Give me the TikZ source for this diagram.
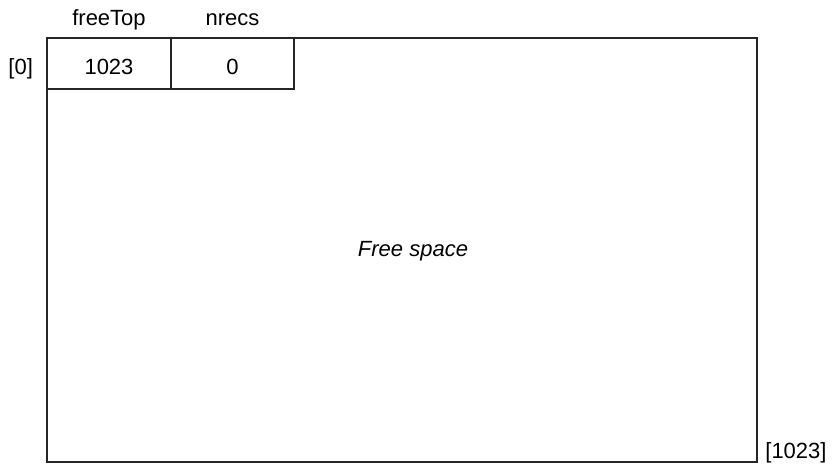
\documentclass[tikz,border=0pt]{standalone}
\usepackage{fontspec}
\setmainfont{Liberation Sans}
\usetikzlibrary{positioning}

\begin{document}
\begin{tikzpicture}[x=0.5pt, y=-0.5pt, font=\fontsize{11pt}{13pt}\selectfont,
    txt/.style={text height=8pt, text depth=2.3pt},
    celltxt/.style={text height=11pt, text depth=0pt},
    cell/.style={celltxt, draw=black!85, line width=0.8pt, outer sep=0pt, inner sep=0pt,
                 minimum height=25.5pt}]
        \useasboundingbox (0,0) rectangle (832,463);
        % Page
        \node[cell, minimum width=355pt, minimum height=212pt] (page)
              at (402,250) {};
        % Header fields
        \node[cell, minimum width=62pt, anchor=north west] (topcell)
              at (page.north west) {1023};
        \node[cell, minimum width=61.5pt, right=0pt of topcell] (nreccell) {0};
        % Field names
        \node[txt, above=0.5pt of topcell] (toplbl) {freeTop};
        \node[txt, above=0.5pt of nreccell] (nreclbl) {nrecs};
        % Indices
        \node[celltxt, left=3.5pt of topcell] (firstidx) {[0]};
        \node[anchor=base west, inner sep=4pt] (lastidx)
              at ([yshift=2pt]page.south east) {[1023]};
        \node[font=\fontsize{11pt}{13pt}\selectfont\itshape] (freelbl)
              at (413,251) {Free space};
      \end{tikzpicture}
\end{document}
